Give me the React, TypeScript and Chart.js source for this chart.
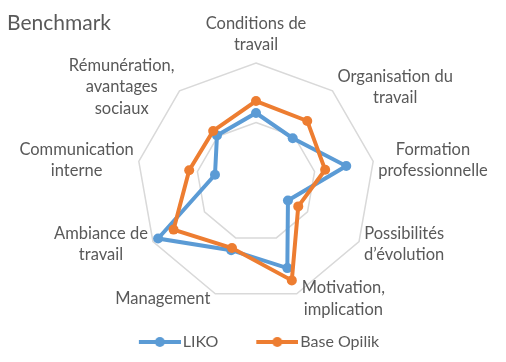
import React, { useEffect, useRef } from 'react';
import { Chart, registerables } from 'chart.js';

Chart.register(...registerables);

// ---- Data ----
const categories: string[][] = [
  ['Conditions de', 'travail'],
  ['Organisation du', 'travail'],
  ['Formation', 'professionnelle'],
  ['Possibilités', 'd’évolution'],
  ['Motivation,', 'implication'],
  ['Management'],
  ['Ambiance de', 'travail'],
  ['Communication', 'interne'],
  ['Rémunération,', 'avantages', 'sociaux'],
];
const likoValues = [5.8, 4.8, 7.7, 3.1, 7.7, 6.1, 9.5, 3.5, 5.1];
const opilikValues = [6.8, 6.7, 5.9, 4.1, 8.8, 5.9, 8.0, 5.7, 5.6];
const seriesNames = ['LIKO', 'Base Opilik'];
const seriesColors = ['#5B9BD5', '#ED7D31'];
const scaleMin = 0;
const scaleMax = 10;
const scaleStep = 5;
const titleText = 'Benchmark';

const TEXT_COLOR = '#595959';
const FONT = 'Lato';
const LABEL_SIZE = 16.5;
const LABEL_LH = 21.3;

function legendMarker(color: string): HTMLCanvasElement {
  const c = document.createElement('canvas');
  c.width = 53;
  c.height = 12;
  const g = c.getContext('2d')!;
  g.strokeStyle = color;
  g.lineWidth = 4;
  g.beginPath();
  g.moveTo(11, 6);
  g.lineTo(53, 6);
  g.stroke();
  g.fillStyle = color;
  g.beginPath();
  g.arc(32, 6, 5, 0, Math.PI * 2);
  g.fill();
  return c;
}

const excelPointLabels = {
  id: 'excelPointLabels',
  afterDraw(chart: any) {
    const scale = chart.scales.r;
    if (!scale) return;
    const ctx = chart.ctx as CanvasRenderingContext2D;
    ctx.save();
    ctx.font = `${LABEL_SIZE}px ${FONT}`;
    ctx.fillStyle = TEXT_COLOR;
    ctx.textAlign = 'center';
    ctx.textBaseline = 'middle';
    const R = scale.drawingArea;
    const labels = chart.data.labels as string[][];
    labels.forEach((lines, i) => {
      const p = scale.getPointPosition(i, R);
      const a = p.angle + Math.PI / 2;
      const s = Math.sin(a);
      const c = Math.cos(a);
      const maxW = Math.max(...lines.map((l) => ctx.measureText(l).width));
      const n = lines.length;
      let cx: number;
      let cy: number;
      if (Math.abs(s) < 0.05) {
        cx = p.x;
        cy = c > 0 ? p.y - 18 - ((n - 1) * LABEL_LH) / 2 : p.y + 18 + ((n - 1) * LABEL_LH) / 2;
      } else {
        cx = p.x + Math.sign(s) * (maxW / 2 + 5);
        cy = p.y - c * 5;
      }
      lines.forEach((l, j) => {
        ctx.fillText(l, cx, cy + (j - (n - 1) / 2) * LABEL_LH);
      });
    });
    ctx.restore();
  },
};

export default function App() {
  const ref = useRef<HTMLCanvasElement | null>(null);

  useEffect(() => {
    if (!ref.current) return;
    const markers = seriesColors.map(legendMarker);
    const chart = new Chart(ref.current, {
      type: 'radar',
      data: {
        labels: categories,
        datasets: [
          {
            label: seriesNames[0],
            data: likoValues,
            borderColor: seriesColors[0],
            backgroundColor: seriesColors[0],
            pointBackgroundColor: seriesColors[0],
            pointBorderColor: seriesColors[0],
            borderWidth: 4,
            pointRadius: 5,
            pointBorderWidth: 0,
            fill: false,
            order: 1,
          },
          {
            label: seriesNames[1],
            data: opilikValues,
            borderColor: seriesColors[1],
            backgroundColor: seriesColors[1],
            pointBackgroundColor: seriesColors[1],
            pointBorderColor: seriesColors[1],
            borderWidth: 4,
            pointRadius: 5,
            pointBorderWidth: 0,
            fill: false,
            order: 0,
          },
        ],
      },
      options: {
        responsive: false,
        animation: false,
        devicePixelRatio: 1,
        layout: { padding: { left: 7, right: 0, top: 0, bottom: 2 } },
        elements: { line: { tension: 0 } },
        scales: {
          r: {
            min: scaleMin,
            max: scaleMax,
            ticks: { display: false, stepSize: scaleStep },
            grid: { color: '#D9D9D9', lineWidth: 1.5 },
            angleLines: { display: false },
            pointLabels: { display: false },
          },
        },
        plugins: {
          tooltip: { enabled: false },
          title: {
            display: true,
            text: titleText,
            align: 'start',
            color: TEXT_COLOR,
            font: { size: 21, weight: 'normal', family: FONT, lineHeight: 1.2 },
            padding: { top: 11, bottom: 26.8 },
          },
          legend: {
            position: 'bottom',
            labels: {
              usePointStyle: true,
              pointStyleWidth: 41,
              padding: 33,
              color: TEXT_COLOR,
              font: { size: 16, family: FONT },
              sort: (a: any, b: any) => a.datasetIndex - b.datasetIndex,
              generateLabels: (c: any) => {
                const items = (Chart.defaults.plugins.legend.labels as any).generateLabels(c);
                items.forEach((it: any) => {
                  it.pointStyle = markers[it.datasetIndex];
                  it.fontColor = TEXT_COLOR;
                });
                return items;
              },
            },
          },
        },
      } as any,
      plugins: [excelPointLabels],
    });
    return () => chart.destroy();
  }, []);

  return (
    <div style={{ position: 'fixed', left: 0, top: 0, width: 506, height: 362, background: '#fff' }}>
      <canvas ref={ref} width={506} height={362} style={{ width: 506, height: 362, display: 'block' }} />
    </div>
  );
}
